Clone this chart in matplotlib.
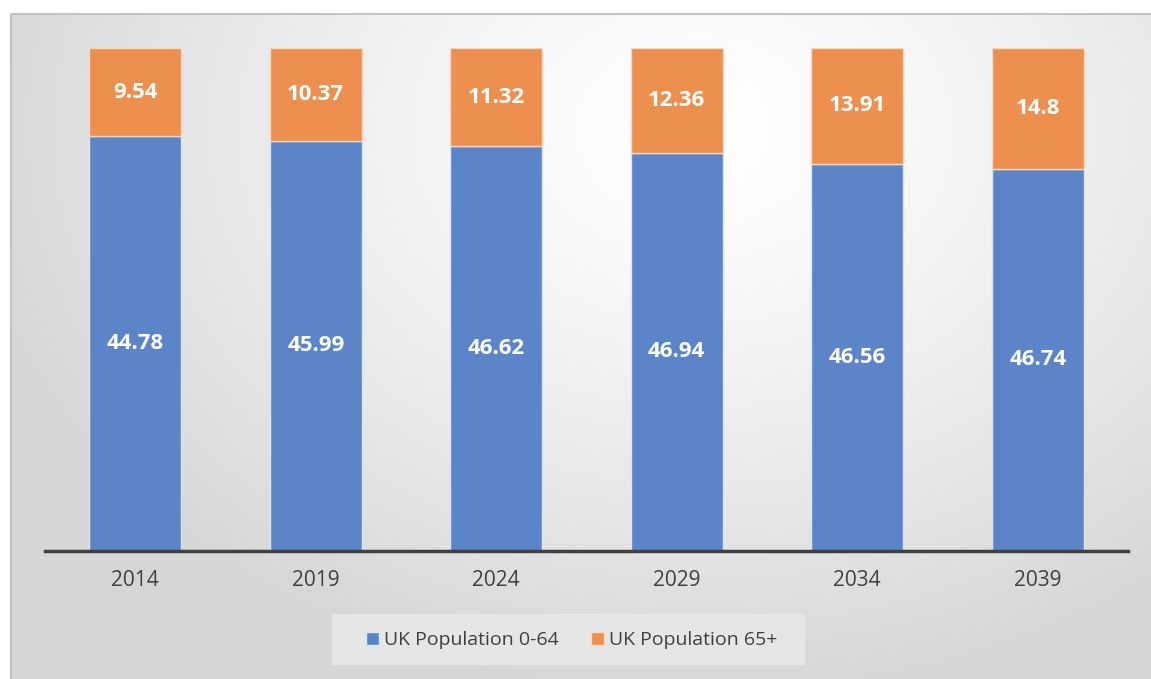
import numpy as np
import matplotlib.pyplot as plt
from matplotlib.patches import Rectangle

years = ['2014', '2019', '2024', '2029', '2034', '2039']
pop_0_64 = [44.78, 45.99, 46.62, 46.94, 46.56, 46.74]
pop_65_plus = [9.54, 10.37, 11.32, 12.36, 13.91, 14.8]

blue = '#5b84c9'
orange = '#ed8f4f'
fonts = ['Open Sans', 'DejaVu Sans']

W, H = 1151, 679
fig = plt.figure(figsize=(W / 100, H / 100), dpi=100)
fig.patch.set_facecolor('white')

# radial gray background inside the chart frame
bg = fig.add_axes([0, 0, 1, 1], zorder=-5)
yy, xx = np.mgrid[0:H, 0:W]
d = np.sqrt(((xx - 700) / 850.0) ** 2 + ((yy - 130) / 650.0) ** 2)
shade = np.clip(1.0 - 0.19 * d ** 1.3, 0.84, 1.0)
img = np.dstack([shade, shade, shade])
img[:14, :, :] = 1.0
img[:, :11, :] = 1.0
bg.imshow(img, extent=[0, W, H, 0], aspect='auto', interpolation='bilinear')
bg.add_patch(Rectangle((11, 14), W, H, fill=False, ec='#c3c3c3', lw=1.5))
# legend panel
bg.add_patch(Rectangle((332, 614), 473, 51, fc='#e6e6e6', ec='none'))
bg.set_xlim(0, W)
bg.set_ylim(H, 0)
bg.axis('off')

ax = fig.add_axes([45 / W, 1 - 551 / H, (1128 - 45) / W, (551 - 48) / H])
ax.set_facecolor('none')

x = np.arange(len(years))
low = np.array(pop_0_64)
high = np.array(pop_65_plus)
tot = low + high
f_low = low / tot
f_high = high / tot

ax.bar(x, f_low, width=0.51, color=blue, edgecolor='#dfe6f3', linewidth=1.0, label='UK Population 0-64')
ax.bar(x, f_high, bottom=f_low, width=0.51, color=orange, edgecolor='#f6d9c4', linewidth=1.0, label='UK Population 65+')

lab_font = dict(family=fonts, fontsize=16, fontweight='bold', color='white',
                ha='center', va='center')
for i in range(len(years)):
    ax.text(x[i], f_low[i] / 2, f'{pop_0_64[i]:g}', **lab_font)
    ax.text(x[i], f_low[i] + f_high[i] / 2, f'{pop_65_plus[i]:g}', **lab_font)

ax.set_xlim(-0.5, len(years) - 0.5)
ax.set_ylim(0, 1)
ax.set_yticks([])
ax.set_xticks(x)
ax.set_xticklabels(years, fontsize=15, color='#404040', family=fonts)
ax.tick_params(axis='x', length=0, pad=14)
for s in ['top', 'right', 'left']:
    ax.spines[s].set_visible(False)
ax.spines['bottom'].set_color('#404040')
ax.spines['bottom'].set_linewidth(2.5)

leg = fig.legend(loc='center left', bbox_to_anchor=(366 / W, 1 - 640 / H),
                 ncol=2, frameon=False,
                 handlelength=0.65, handleheight=0.65, handletextpad=0.25,
                 columnspacing=1.7, borderpad=0, borderaxespad=0,
                 prop={'family': fonts, 'size': 14})
for t in leg.get_texts():
    t.set_color('#404040')

fig.savefig('out.png', dpi=100)
